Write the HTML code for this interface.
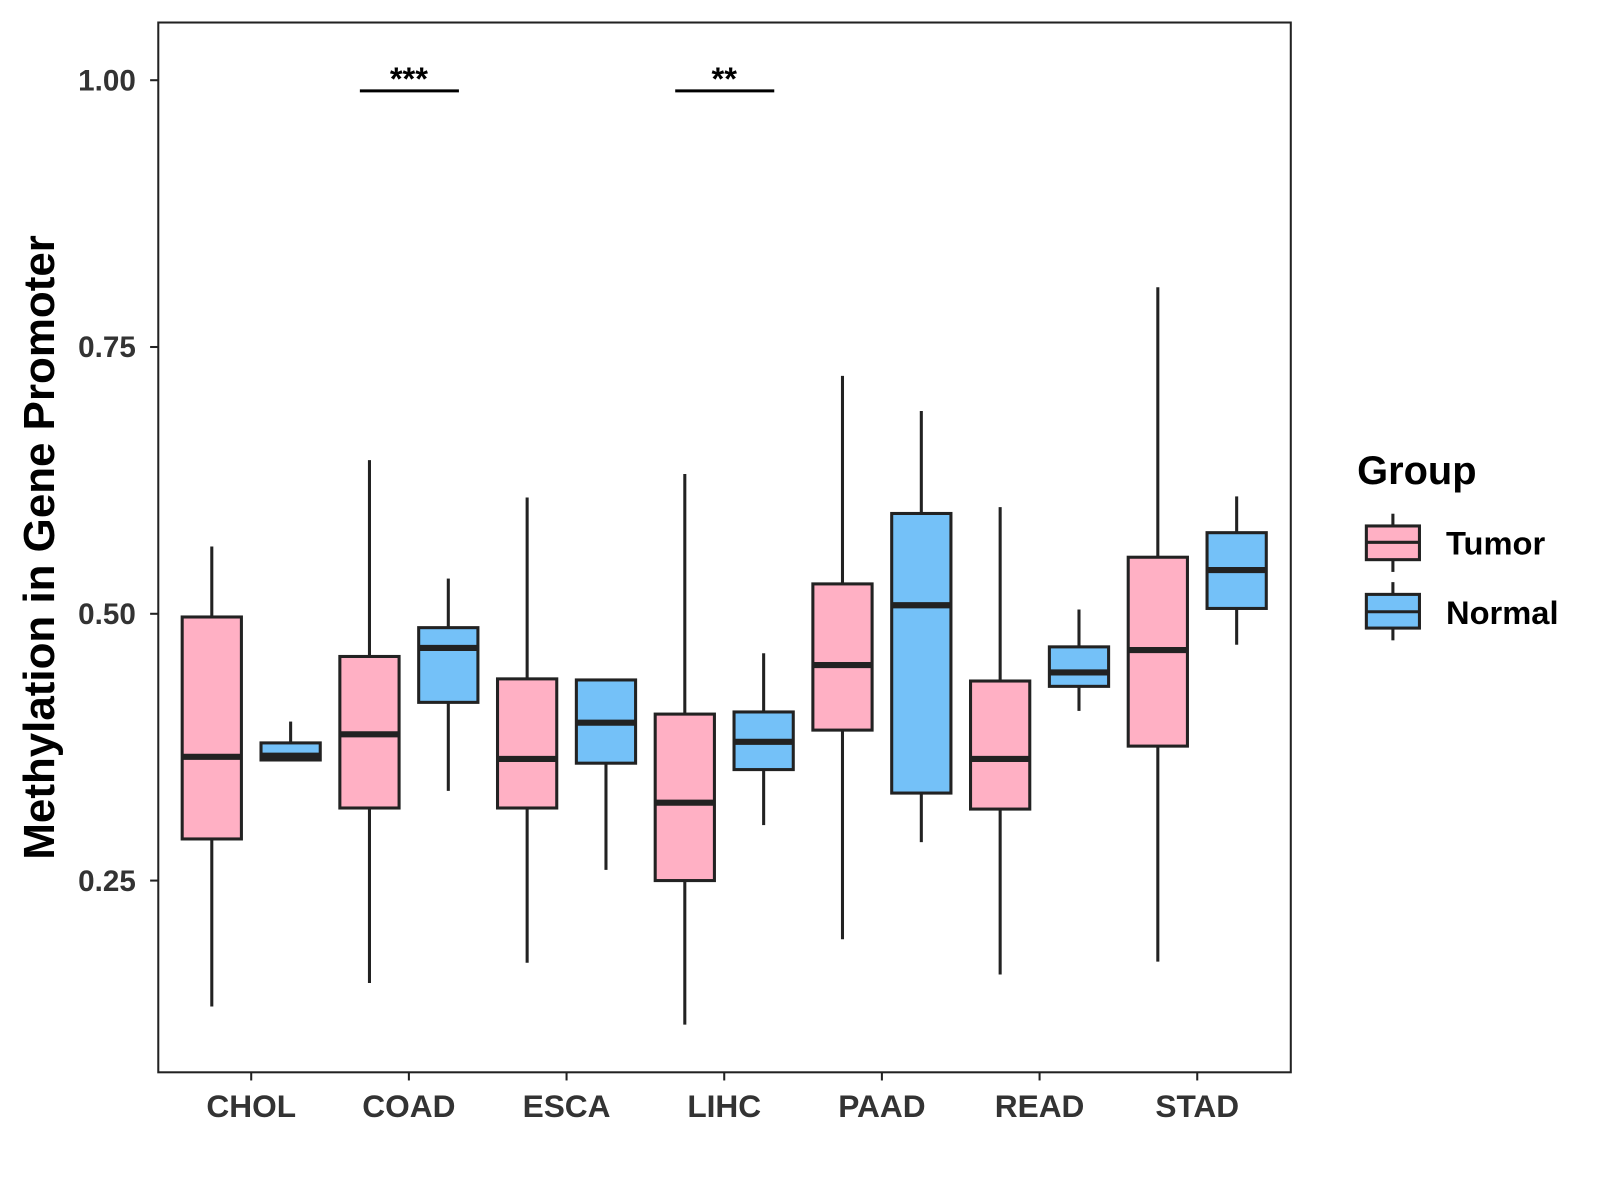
<!DOCTYPE html>
<html><head><meta charset="utf-8"><style>body{margin:0;background:#fff}svg{display:block}text{font-family:"Liberation Sans",Arial,sans-serif;font-weight:bold}</style></head>
<body>
<svg id="chart" width="1600" height="1200" viewBox="0 0 1566.8 1175" xmlns="http://www.w3.org/2000/svg">
<rect x="155" y="22" width="1109" height="1028" fill="#fff" stroke="#222" stroke-width="2"/>
<g id="marks"></g>
<text transform="translate(53,536) rotate(-90)" text-anchor="middle" font-size="43" fill="#000">Methylation in Gene Promoter</text>
<text x="1329" y="474" font-size="39" fill="#000">Group</text>
<g>
<line x1="1364" y1="503" x2="1364" y2="560" stroke="#222" stroke-width="3"/>
<rect x="1338" y="515" width="52" height="33" fill="#FFB0C4" stroke="#222" stroke-width="3"/>
<line x1="1338" y1="531" x2="1390" y2="531" stroke="#222" stroke-width="3"/>
<text x="1416" y="543" font-size="32" fill="#000">Tumor</text></g>
<g>
<line x1="1364" y1="570" x2="1364" y2="627" stroke="#222" stroke-width="3"/>
<rect x="1338" y="582" width="52" height="33" fill="#74C1F8" stroke="#222" stroke-width="3"/>
<line x1="1338" y1="599" x2="1390" y2="599" stroke="#222" stroke-width="3"/>
<text x="1416" y="611" font-size="32" fill="#000">Normal</text></g>
</svg>
<script>
const categories=["CHOL","COAD","ESCA","LIHC","PAAD","READ","STAD"];
const tumorStats=[[0.132,0.289,0.366,0.497,0.563],[0.154,0.318,0.387,0.460,0.644],[0.173,0.318,0.364,0.439,0.609],[0.115,0.250,0.323,0.406,0.631],[0.195,0.391,0.452,0.528,0.723],[0.162,0.317,0.364,0.437,0.600],[0.174,0.376,0.466,0.553,0.806]];
const normalStats=[[0.363,0.363,0.367,0.379,0.399],[0.334,0.417,0.468,0.487,0.533],[0.260,0.360,0.398,0.438,0.438],[0.302,0.354,0.380,0.408,0.463],[0.286,0.332,0.508,0.594,0.690],[0.409,0.432,0.445,0.469,0.504],[0.471,0.505,0.541,0.576,0.610]];
const yTicks=[0.25,0.5,0.75,1.0];
const yTickLabels=["0.25","0.50","0.75","1.00"];
const sigCats=["COAD","LIHC"];
const sigLabels=["***","**"];
const sigLevel=0.99;
const NS="http://www.w3.org/2000/svg";
const g=document.getElementById('marks');
function y(v){return 601-(v-0.5)*1045;}
function x(i){return 246+i*154.4;}
function el(t,a,txt){const e=document.createElementNS(NS,t);for(const k in a)e.setAttribute(k,a[k]);if(txt!==undefined)e.textContent=txt;g.appendChild(e);return e;}
yTicks.forEach((v,i)=>{
const t=el('line',{x1:147,x2:155,y1:y(v),y2:y(v),stroke:'#222','stroke-width':2});


const l=el('text',{x:133,y:y(v)+10,'text-anchor':'end','font-size':29,fill:'#333'},yTickLabels[i]);


});
categories.forEach((c,i)=>{
const t=el('line',{x1:x(i),x2:x(i),y1:1050,y2:1058,stroke:'#222','stroke-width':2});


const l=el('text',{x:x(i),y:1094,'text-anchor':'middle','font-size':31,fill:'#333'},c);


});
function box(s,cx,fill,name){
const w=58;
const grp=document.createElementNS(NS,'g');g.appendChild(grp);


const mk=(t,a)=>{const e=document.createElementNS(NS,t);for(const k in a)e.setAttribute(k,a[k]);grp.appendChild(e);};
mk('line',{x1:cx,x2:cx,y1:y(s[4]),y2:y(s[3]),stroke:'#222','stroke-width':3});
mk('line',{x1:cx,x2:cx,y1:y(s[1]),y2:y(s[0]),stroke:'#222','stroke-width':3});
mk('rect',{x:cx-w/2,y:y(s[3]),width:w,height:Math.max(0,y(s[1])-y(s[3])),fill:fill,stroke:'#222','stroke-width':3});
mk('line',{x1:cx-w/2,x2:cx+w/2,y1:y(s[2]),y2:y(s[2]),stroke:'#222','stroke-width':6});
}
categories.forEach((c,i)=>{
box(tumorStats[i],x(i)-38.6,'#FFB0C4','box-tumor-'+c.toLowerCase());
box(normalStats[i],x(i)+38.6,'#74C1F8','box-normal-'+c.toLowerCase());
});
sigCats.forEach((c,j)=>{
const i=categories.indexOf(c);
const b=el('line',{x1:x(i)-48,x2:x(i)+49,y1:y(sigLevel),y2:y(sigLevel),stroke:'#000','stroke-width':3});


const t=el('text',{x:x(i),y:y(sigLevel)-1,'text-anchor':'middle','font-size':32,fill:'#000'},sigLabels[j]);


});
</script>
</body></html>
